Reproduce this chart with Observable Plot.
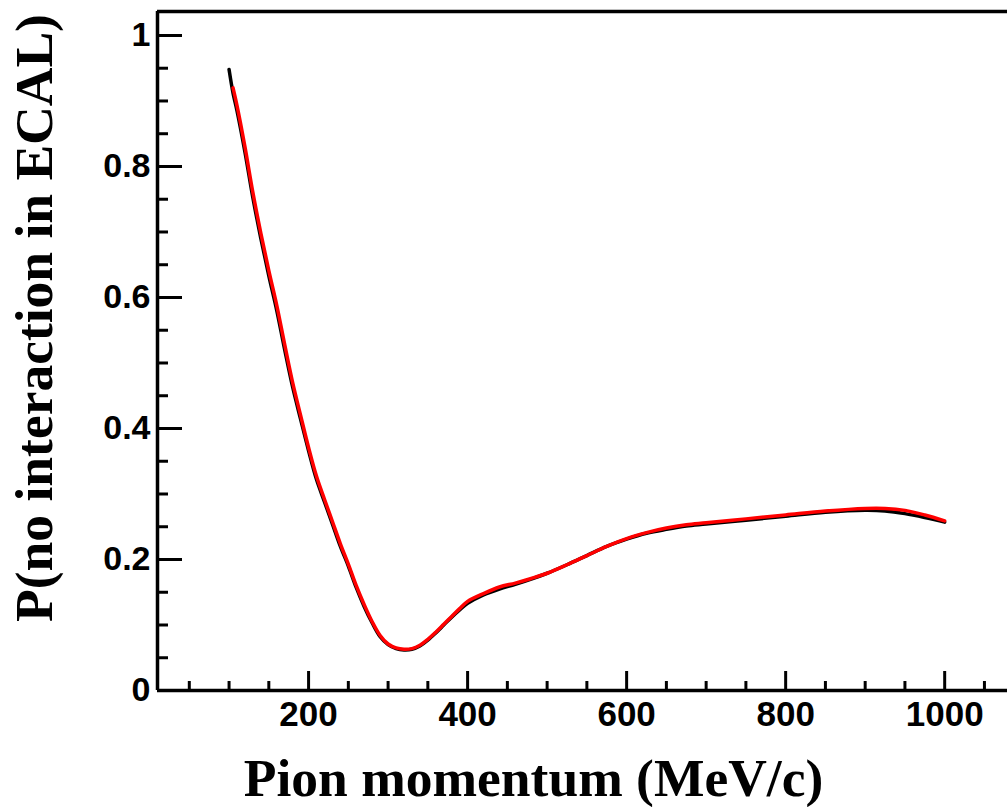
<!DOCTYPE html>
<html><head><meta charset="utf-8">
<script src="https://cdn.jsdelivr.net/npm/d3@7"></script>
<script src="https://cdn.jsdelivr.net/npm/@observablehq/plot@0.6"></script>
<style>body{margin:0;background:#fff;}</style>
</head><body><div id="chart"></div>
<script>
// Black curve
const momentumBlack = [100,105,110,120,130,140,150,160,170,180,190,200,210,220,230,240,250,260,270,280,290,300,310,320,330,340,350,360,370,380,390,400,420,440,460,480,500,525,550,575,600,625,650,675,700,750,800,850,900,925,950,975,1000];
const pBlack =        [0.948,0.912,0.885,0.822,0.752,0.690,0.633,0.580,0.520,0.463,0.414,0.366,0.322,0.288,0.254,0.220,0.190,0.157,0.128,0.103,0.082,0.070,0.064,0.062,0.063,0.068,0.077,0.088,0.100,0.112,0.123,0.133,0.146,0.155,0.162,0.170,0.179,0.192,0.206,0.220,0.231,0.240,0.246,0.251,0.254,0.260,0.266,0.272,0.275,0.274,0.270,0.264,0.257];
// Red curve
const momentumRed = [105,110,120,130,140,150,160,170,180,190,200,210,220,230,240,250,260,270,280,290,300,310,320,330,340,350,360,370,380,390,400,420,440,460,480,500,525,550,575,600,625,650,675,700,750,800,850,900,925,950,975,1000];
const pRed =        [0.920,0.893,0.830,0.760,0.698,0.641,0.588,0.528,0.470,0.420,0.371,0.327,0.292,0.258,0.224,0.193,0.160,0.131,0.105,0.084,0.071,0.065,0.063,0.064,0.069,0.078,0.089,0.101,0.113,0.125,0.136,0.148,0.158,0.164,0.171,0.179,0.192,0.206,0.220,0.232,0.241,0.248,0.253,0.256,0.262,0.268,0.274,0.278,0.278,0.275,0.268,0.259];

const xMajorTicks = [200,400,600,800,1000];
const xMinorTicks = [50,100,150,250,300,350,450,500,550,650,700,750,850,900,950,1050];
const yMajorTicks = [0,0.2,0.4,0.6,0.8,1];
const yMinorTicks = [0.05,0.1,0.15,0.25,0.3,0.35,0.45,0.5,0.55,0.65,0.7,0.75,0.85,0.9,0.95];
const xDomain = [10, 1079];
const yDomain = [0, 1.0366];
const xTitle = "Pion momentum (MeV/c)";
const yTitle = "P(no interaction in ECAL)";

const sans = "'Liberation Sans', Arial, Helvetica, sans-serif";
const serif = "'Liberation Serif', 'Times New Roman', serif";

const chart = Plot.plot({
  width: 1007, height: 807,
  marginLeft: 157, marginRight: 0, marginTop: 11, marginBottom: 117,
  x: {domain: xDomain},
  y: {domain: yDomain},
  style: {background: "#fff", color: "#000", overflow: "visible"},
  marks: [
    // ticks (inside)
    Plot.axisX(xMajorTicks, {anchor: "bottom", tickSize: 19, dy: -19, fill: "none", strokeWidth: 3, label: null}),
    Plot.axisX(xMinorTicks, {anchor: "bottom", tickSize: 9, dy: -9, fill: "none", strokeWidth: 3, label: null}),
    Plot.axisY(yMajorTicks, {anchor: "left", tickSize: 25, dx: 25, fill: "none", strokeWidth: 3, label: null}),
    Plot.axisY(yMinorTicks, {anchor: "left", tickSize: 11, dx: 11, fill: "none", strokeWidth: 3, label: null}),
    // tick labels
    Plot.axisX(xMajorTicks, {anchor: "bottom", tickSize: 0, tickPadding: 11, tickFormat: d => String(d), label: null,
      fontFamily: sans, fontWeight: "bold", fontSize: 35}),
    Plot.axisY(yMajorTicks, {anchor: "left", tickSize: 0, tickPadding: 7, tickFormat: d3.format("~g"), label: null,
      fontFamily: sans, fontWeight: "bold", fontSize: 34}),
    // frame lines
    Plot.ruleX([xDomain[0]], {strokeWidth: 3.5}),
    Plot.ruleY([yDomain[0]], {strokeWidth: 3.5}),
    Plot.ruleY([yDomain[1]], {strokeWidth: 3.5}),
    // curves
    Plot.line(momentumBlack, {x: momentumBlack, y: pBlack, stroke: "black", strokeWidth: 3.5, curve: "catmull-rom"}),
    Plot.line(momentumRed, {x: momentumRed, y: pRed, stroke: "#ff0000", strokeWidth: 3.5, curve: "catmull-rom"}),
    // axis titles
    Plot.text([xTitle], {text: d => d, frameAnchor: "bottom-left", dx: 376, dy: 105, textAnchor: "middle", lineAnchor: "bottom",
      fontFamily: serif, fontWeight: "bold", fontSize: 53.5}),
    Plot.text([yTitle], {text: d => d, frameAnchor: "left", dx: -106, dy: -33, rotate: -90, textAnchor: "middle", lineAnchor: "bottom",
      fontFamily: serif, fontWeight: "bold", fontSize: 53.5})
  ]
});
document.getElementById("chart").appendChild(chart);
</script>
</body></html>
